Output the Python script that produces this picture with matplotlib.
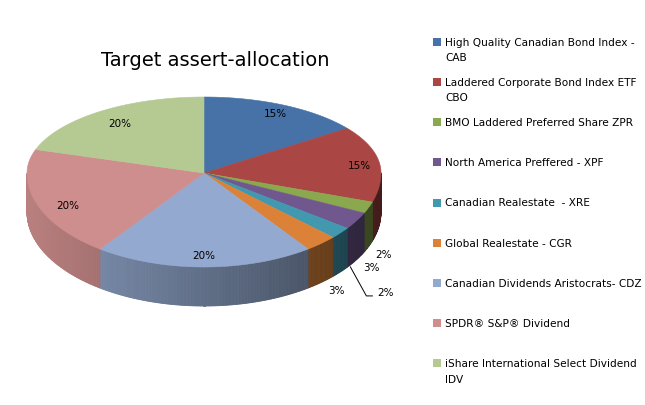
import numpy as np
import matplotlib
matplotlib.use("Agg")
import matplotlib.pyplot as plt
from matplotlib.patches import Polygon, Rectangle
from matplotlib.colors import to_rgb

# data
labels = ["High Quality Canadian Bond Index -\nCAB",
          "Laddered Corporate Bond Index ETF\nCBO",
          "BMO Laddered Preferred Share ZPR",
          "North America Preffered - XPF",
          "Canadian Realestate  - XRE",
          "Global Realestate - CGR",
          "Canadian Dividends Aristocrats- CDZ",
          "SPDR\u00ae S&P\u00ae Dividend",
          "iShare International Select Dividend\nIDV"]
values = [15, 15, 2, 3, 2, 3, 20, 20, 20]
colors = ["#4672a8", "#aa4644", "#8aa84e", "#70588f", "#4198af",
          "#db8238", "#93a9cf", "#ce8e8d", "#b5ca92"]

# layout (pixels)
W, H = 645, 406
CX, CY = 204, 174
RX, RY_BACK, RY_FRONT = 177, 76, 94
DEPTH = 39


def proj(t, r=1.0, z=0.0):
    a = np.radians(t)
    ry = RY_BACK if np.sin(a) > 0 else RY_FRONT
    return CX + r * RX * np.cos(a), CY - r * ry * np.sin(a) + z


def shade(c, t):
    f = 0.65 - 0.25 * np.cos(np.radians(t))
    return tuple(min(1, v * f) for v in to_rgb(c))


fig = plt.figure(figsize=(W / 100, H / 100), dpi=100)
ax = fig.add_axes([0, 0, 1, 1])
ax.set_xlim(0, W)
ax.set_ylim(H, 0)
ax.axis("off")

total = sum(values)
cum = np.concatenate([[0], np.cumsum(values)])
starts = 90 - 360 * cum[:-1] / total
ends = 90 - 360 * cum[1:] / total

# side walls (front half only)
for v, c, t0, t1 in zip(values, colors, starts, ends):
    ts = np.linspace(t0, t1, max(3, int(abs(t1 - t0) * 2)))
    for ta, tb in zip(ts[:-1], ts[1:]):
        tm = (ta + tb) / 2
        if np.sin(np.radians(tm)) >= 0:
            continue
        pa, pb = proj(ta), proj(tb)
        quad = [pa, pb, (pb[0], pb[1] + DEPTH), (pa[0], pa[1] + DEPTH)]
        col = shade(c, tm)
        ax.add_patch(Polygon(quad, closed=True, fc=col, ec=col, lw=0.6))

# top face
for v, c, t0, t1 in zip(values, colors, starts, ends):
    ts = np.linspace(t0, t1, max(3, int(abs(t1 - t0) * 2)))
    pts = [(CX, CY)] + [proj(t) for t in ts]
    ax.add_patch(Polygon(pts, closed=True, fc=c, ec=c, lw=0.4))

# percentage labels
for v, t0, t1 in zip(values, starts, ends):
    txt = f"{v / total * 100:.0f}%"
    tm = (t0 + t1) / 2
    if v >= 5:
        p0, p1 = proj(t0), proj(t1)
        x, y = (p0[0] + p1[0]) / 2, (p0[1] + p1[1]) / 2
        if np.sin(np.radians(tm)) < 0 and abs(t1 - t0) > 60:
            y += 6
        ax.text(x, y, txt, ha="center", va="center", fontsize=7.5)
    else:
        bx, by = proj(tm, 1.0, DEPTH)
        if v == 2 and tm < -30:
            # leader line label
            tx, ty = bx + 37, by + 20
            ax.plot([bx + 10, tx - 11, tx - 5], [by - 5, ty + 4, ty + 4],
                    color="black", lw=0.7)
            ax.text(tx, ty, txt, ha="left", va="center", fontsize=7.5)
        else:
            ax.text(bx + 15, by + 7, txt, ha="center", va="center",
                    fontsize=7.5)

ax.text(215, 60, "Target assert-allocation", ha="center", va="center",
        fontsize=14)

# legend
for i, (lab, c) in enumerate(zip(labels, colors)):
    y = 42.7 + 40.2 * i
    ax.add_patch(Rectangle((433, y - 4), 8, 8, fc=c, ec="none"))
    for k, line in enumerate(lab.split("\n")):
        ax.text(445, y + 15.5 * k, line, ha="left", va="center", fontsize=7.6)

fig.savefig("out.png", dpi=100)
